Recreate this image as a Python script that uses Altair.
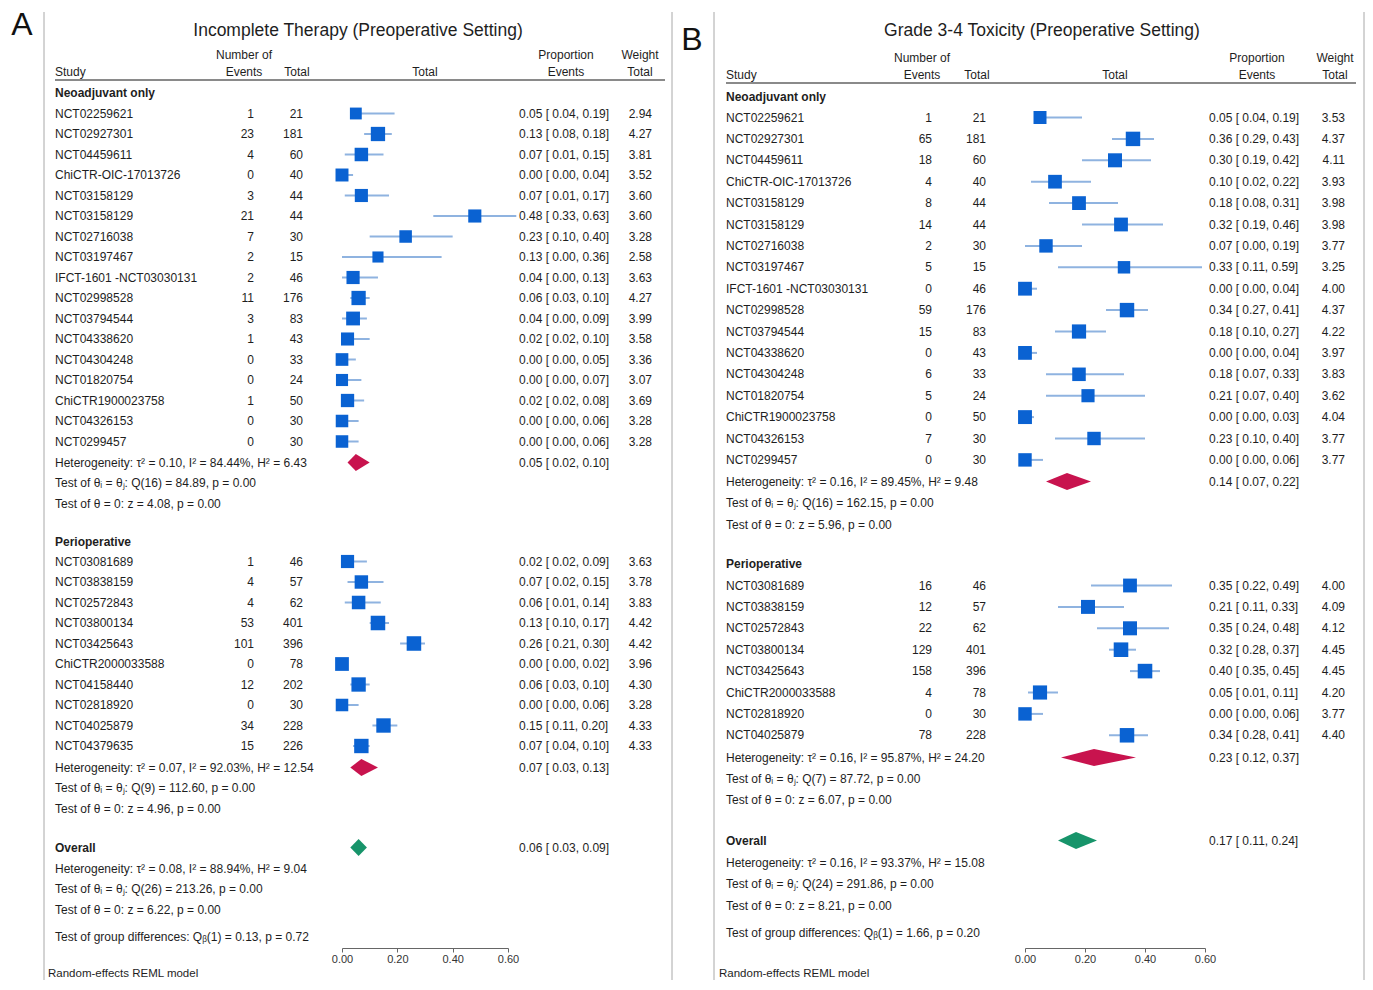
import altair as alt
import pandas as pd

FONT = "Liberation Sans"
TXT = "#1e1e1e"
BLUE = "#0a62d2"
CI = "#8fb3e0"
RED = "#c8134e"
GREEN = "#17946a"
GRAY = "#a8a8a8"

# ---------------- Panel A data: Incomplete therapy ----------------
a_neo_study = ["NCT02259621", "NCT02927301", "NCT04459611", "ChiCTR-OIC-17013726", "NCT03158129",
               "NCT03158129", "NCT02716038", "NCT03197467", "IFCT-1601 -NCT03030131", "NCT02998528",
               "NCT03794544", "NCT04338620", "NCT04304248", "NCT01820754", "ChiCTR1900023758",
               "NCT04326153", "NCT0299457"]
a_neo_events = [1, 23, 4, 0, 3, 21, 7, 2, 2, 11, 3, 1, 0, 0, 1, 0, 0]
a_neo_total = [21, 181, 60, 40, 44, 44, 30, 15, 46, 176, 83, 43, 33, 24, 50, 30, 30]
a_neo_es = [0.05, 0.13, 0.07, 0.00, 0.07, 0.48, 0.23, 0.13, 0.04, 0.06, 0.04, 0.02, 0.00, 0.00, 0.02, 0.00, 0.00]
a_neo_lo = [0.04, 0.08, 0.01, 0.00, 0.01, 0.33, 0.10, 0.00, 0.00, 0.03, 0.00, 0.02, 0.00, 0.00, 0.02, 0.00, 0.00]
a_neo_hi = [0.19, 0.18, 0.15, 0.04, 0.17, 0.63, 0.40, 0.36, 0.13, 0.10, 0.09, 0.10, 0.05, 0.07, 0.08, 0.06, 0.06]
a_neo_w = [2.94, 4.27, 3.81, 3.52, 3.60, 3.60, 3.28, 2.58, 3.63, 4.27, 3.99, 3.58, 3.36, 3.07, 3.69, 3.28, 3.28]

a_per_study = ["NCT03081689", "NCT03838159", "NCT02572843", "NCT03800134", "NCT03425643",
               "ChiCTR2000033588", "NCT04158440", "NCT02818920", "NCT04025879", "NCT04379635"]
a_per_events = [1, 4, 4, 53, 101, 0, 12, 0, 34, 15]
a_per_total = [46, 57, 62, 401, 396, 78, 202, 30, 228, 226]
a_per_es = [0.02, 0.07, 0.06, 0.13, 0.26, 0.00, 0.06, 0.00, 0.15, 0.07]
a_per_lo = [0.02, 0.02, 0.01, 0.10, 0.21, 0.00, 0.03, 0.00, 0.11, 0.04]
a_per_hi = [0.09, 0.15, 0.14, 0.17, 0.30, 0.02, 0.10, 0.06, 0.20, 0.10]
a_per_w = [3.63, 3.78, 3.83, 4.42, 4.42, 3.96, 4.30, 3.28, 4.33, 4.33]

a_summary = {"neo": (0.05, 0.02, 0.10), "per": (0.07, 0.03, 0.13), "all": (0.06, 0.03, 0.09)}
a_neo_stats = ["Heterogeneity: τ² = 0.10, I² = 84.44%, H² = 6.43",
               "Test of θᵢ = θⱼ: Q(16) = 84.89, p = 0.00",
               "Test of θ = 0: z = 4.08, p = 0.00"]
a_per_stats = ["Heterogeneity: τ² = 0.07, I² = 92.03%, H² = 12.54",
               "Test of θᵢ = θⱼ: Q(9) = 112.60, p = 0.00",
               "Test of θ = 0: z = 4.96, p = 0.00"]
a_all_stats = ["Heterogeneity: τ² = 0.08, I² = 88.94%, H² = 9.04",
               "Test of θᵢ = θⱼ: Q(26) = 213.26, p = 0.00",
               "Test of θ = 0: z = 6.22, p = 0.00"]
a_group = "Test of group differences: Qᵦ(1) = 0.13, p = 0.72"

# ---------------- Panel B data: Grade 3-4 toxicity ----------------
b_neo_study = list(a_neo_study)
b_neo_events = [1, 65, 18, 4, 8, 14, 2, 5, 0, 59, 15, 0, 6, 5, 0, 7, 0]
b_neo_total = [21, 181, 60, 40, 44, 44, 30, 15, 46, 176, 83, 43, 33, 24, 50, 30, 30]
b_neo_es = [0.05, 0.36, 0.30, 0.10, 0.18, 0.32, 0.07, 0.33, 0.00, 0.34, 0.18, 0.00, 0.18, 0.21, 0.00, 0.23, 0.00]
b_neo_lo = [0.04, 0.29, 0.19, 0.02, 0.08, 0.19, 0.00, 0.11, 0.00, 0.27, 0.10, 0.00, 0.07, 0.07, 0.00, 0.10, 0.00]
b_neo_hi = [0.19, 0.43, 0.42, 0.22, 0.31, 0.46, 0.19, 0.59, 0.04, 0.41, 0.27, 0.04, 0.33, 0.40, 0.03, 0.40, 0.06]
b_neo_w = [3.53, 4.37, 4.11, 3.93, 3.98, 3.98, 3.77, 3.25, 4.00, 4.37, 4.22, 3.97, 3.83, 3.62, 4.04, 3.77, 3.77]

b_per_study = ["NCT03081689", "NCT03838159", "NCT02572843", "NCT03800134", "NCT03425643",
               "ChiCTR2000033588", "NCT02818920", "NCT04025879"]
b_per_events = [16, 12, 22, 129, 158, 4, 0, 78]
b_per_total = [46, 57, 62, 401, 396, 78, 30, 228]
b_per_es = [0.35, 0.21, 0.35, 0.32, 0.40, 0.05, 0.00, 0.34]
b_per_lo = [0.22, 0.11, 0.24, 0.28, 0.35, 0.01, 0.00, 0.28]
b_per_hi = [0.49, 0.33, 0.48, 0.37, 0.45, 0.11, 0.06, 0.41]
b_per_w = [4.00, 4.09, 4.12, 4.45, 4.45, 4.20, 3.77, 4.40]

b_summary = {"neo": (0.14, 0.07, 0.22), "per": (0.23, 0.12, 0.37), "all": (0.17, 0.11, 0.24)}
b_neo_stats = ["Heterogeneity: τ² = 0.16, I² = 89.45%, H² = 9.48",
               "Test of θᵢ = θⱼ: Q(16) = 162.15, p = 0.00",
               "Test of θ = 0: z = 5.96, p = 0.00"]
b_per_stats = ["Heterogeneity: τ² = 0.16, I² = 95.87%, H² = 24.20",
               "Test of θᵢ = θⱼ: Q(7) = 87.72, p = 0.00",
               "Test of θ = 0: z = 6.07, p = 0.00"]
b_all_stats = ["Heterogeneity: τ² = 0.16, I² = 93.37%, H² = 15.08",
               "Test of θᵢ = θⱼ: Q(24) = 291.86, p = 0.00",
               "Test of θ = 0: z = 8.21, p = 0.00"]
b_group = "Test of group differences: Qᵦ(1) = 1.66, p = 0.20"

H = 940  # plot height (pixels); axis sits at bottom


def fmt_ci(e, l, h):
    return f"{e:.2f} [ {l:.2f}, {h:.2f}]"


def panel(d, L):
    ysc = alt.Scale(domain=[0, H], reverse=True, nice=False, zero=False)
    xsc = alt.Scale(domain=[0, 0.6], range=L["frange"], nice=False, zero=False)
    xax = alt.Axis(values=[0, 0.2, 0.4, 0.6], format=".2f", title=None, grid=False,
                   labelFont=FONT, labelFontSize=11, labelColor="#333", domainColor="#666",
                   tickColor="#666", tickSize=4, labelPadding=1, labelFlush=False)

    def Y(f):
        return alt.Y(f, scale=ysc, axis=None)

    def X(f):
        return alt.X(f, scale=xsc, axis=xax)

    step = L["step"]
    rows = []
    for key, start in (("neo", L["neo_start"]), ("per", L["per_start"])):
        for i in range(len(d[key + "_study"])):
            e, lo, hi = d[key + "_es"][i], d[key + "_lo"][i], d[key + "_hi"][i]
            rows.append(dict(study=d[key + "_study"][i], events=str(d[key + "_events"][i]),
                             total=str(d[key + "_total"][i]), es=e, lo=lo, hi=hi,
                             w=d[key + "_w"][i], wt=f"{d[key + '_w'][i]:.2f}",
                             ci=fmt_ci(e, lo, hi), y=start + step * i))
    st = pd.DataFrame(rows)

    # summary diamonds
    hh = 8.5
    drows, srows = [], []
    for key, yc, kind in (("neo", L["neo_stats"][0], "sub"), ("per", L["per_stats"][0], "sub"),
                          ("all", L["ov"], "overall")):
        e, lo, hi = d["summary"][key]
        drows += [dict(id=key, kind=kind, x=lo, y1=yc, y2=yc),
                  dict(id=key, kind=kind, x=e, y1=yc - hh, y2=yc + hh),
                  dict(id=key, kind=kind, x=hi, y1=yc, y2=yc)]
        srows.append(dict(t=fmt_ci(e, lo, hi), y=yc))
    dia = pd.DataFrame(drows)
    summ = pd.DataFrame(srows)

    stat_rows = []
    for key, ys in (("neo", L["neo_stats"]), ("per", L["per_stats"]), ("all", L["ov_stats"])):
        for t, yy in zip(d[key + "_statlines"], ys):
            stat_rows.append(dict(t=t, y=yy))
    stat_rows.append(dict(t=d["group"], y=L["grp"]))
    stats = pd.DataFrame(stat_rows)

    heads = pd.DataFrame([dict(t="Neoadjuvant only", y=L["neo_hdr"]),
                          dict(t="Perioperative", y=L["per_hdr"]),
                          dict(t="Overall", y=L["ov"])])

    one = pd.DataFrame({"a": [0]})

    def txt(s, x, y, size=12, align="center", weight="normal", color=TXT):
        return alt.Chart(pd.DataFrame({"t": [s]})).mark_text(
            align=align, baseline="middle", font=FONT, fontSize=size, fontWeight=weight, color=color
        ).encode(x=alt.value(x), y=alt.value(y), text="t:N")

    def rule(x1, x2, y1, y2, color=GRAY, w=1.0):
        return alt.Chart(one).mark_rule(color=color, strokeWidth=w).encode(
            x=alt.value(x1), x2=alt.value(x2), y=alt.value(y1), y2=alt.value(y2))

    def col(field, x, align, weight="normal", data=None):
        return alt.Chart(st if data is None else data).mark_text(
            align=align, baseline="middle", font=FONT, fontSize=12, fontWeight=weight, color=TXT
        ).encode(x=alt.value(x), y=Y("y:Q"), text=f"{field}:N")

    hy1, hy2 = L["hdr_y"]
    layers = [
        rule(L["border"][0], L["border"][0], 4, 972),
        rule(L["border"][1], L["border"][1], 4, 972),
        rule(L["uline"][0], L["uline"][1], L["uline"][2], L["uline"][2], color="#8a8a8a", w=2),
        txt(L["letter"], L["letter_xy"][0], L["letter_xy"][1], size=32, color="#111"),
        txt(d["title"], L["title_x"], 23, size=17.5),
        txt("Study", L["study_x"], hy2, align="left"),
        txt("Number of", L["ev_h"], hy1),
        txt("Events", L["ev_h"], hy2),
        txt("Total", L["tot_h"], hy2),
        txt("Total", L["forest_h"], hy2),
        txt("Proportion", L["es_h"], hy1),
        txt("Events", L["es_h"], hy2),
        txt("Weight", L["w_h"], hy1),
        txt("Total", L["w_h"], hy2),
        txt("Random-effects REML model", L["rand_x"], 966, size=11.5, align="left"),
        alt.Chart(st).mark_rule(color=CI, strokeWidth=2).encode(x=X("lo:Q"), x2="hi:Q", y=Y("y:Q")),
        alt.Chart(st).mark_square(color=BLUE, opacity=1, filled=True).encode(
            x=X("es:Q"), y=Y("y:Q"),
            size=alt.Size("w:Q", scale=alt.Scale(domain=[0, 4.5], range=[0, 215]), legend=None)),
        alt.Chart(dia).mark_area(orient="vertical", opacity=1).encode(
            x=X("x:Q"), y=Y("y1:Q"), y2="y2:Q", detail="id:N",
            color=alt.Color("kind:N", scale=alt.Scale(domain=["sub", "overall"], range=[RED, GREEN]),
                            legend=None)),
        col("study", L["study_x"], "left"),
        col("events", L["ev_r"], "right"),
        col("total", L["tot_r"], "right"),
        col("ci", L["es_x"], "left"),
        col("wt", L["w_r"], "right"),
        col("t", L["es_x"], "left", data=summ),
        col("t", L["study_x"], "left", data=stats),
        col("t", L["study_x"], "left", weight="bold", data=heads),
    ]
    return alt.layer(*layers).properties(width=L["W"], height=H)


dA = dict(neo_study=a_neo_study, neo_events=a_neo_events, neo_total=a_neo_total, neo_es=a_neo_es,
          neo_lo=a_neo_lo, neo_hi=a_neo_hi, neo_w=a_neo_w,
          per_study=a_per_study, per_events=a_per_events, per_total=a_per_total, per_es=a_per_es,
          per_lo=a_per_lo, per_hi=a_per_hi, per_w=a_per_w,
          summary=a_summary, neo_statlines=a_neo_stats, per_statlines=a_per_stats,
          all_statlines=a_all_stats, group=a_group,
          title="Incomplete Therapy (Preoperative Setting)")
dB = dict(neo_study=b_neo_study, neo_events=b_neo_events, neo_total=b_neo_total, neo_es=b_neo_es,
          neo_lo=b_neo_lo, neo_hi=b_neo_hi, neo_w=b_neo_w,
          per_study=b_per_study, per_events=b_per_events, per_total=b_per_total, per_es=b_per_es,
          per_lo=b_per_lo, per_hi=b_per_hi, per_w=b_per_w,
          summary=b_summary, neo_statlines=b_neo_stats, per_statlines=b_per_stats,
          all_statlines=b_all_stats, group=b_group,
          title="Grade 3-4 Toxicity (Preoperative Setting)")

LA = dict(W=672, frange=[334, 500], title_x=350, letter="A", letter_xy=(14, 17),
          border=(36, 664), study_x=47, ev_h=236, ev_r=246, tot_h=289, tot_r=295, forest_h=417,
          es_x=511, es_h=558, w_r=644, w_h=632, uline=(47, 657, 72), hdr_y=(47, 64),
          neo_hdr=85, neo_start=105.5, step=20.5, neo_stats=[454.5, 475, 495.5],
          per_hdr=533.5, per_start=553.5, per_stats=[759.5, 779.5, 800.5], ov=839.5,
          ov_stats=[860.5, 880.5, 901.5], grp=928.5, rand_x=40)
LB = dict(W=685, frange=[345, 525], title_x=362, letter="B", letter_xy=(12, 32),
          border=(34, 684), study_x=46, ev_h=242, ev_r=252, tot_h=297, tot_r=306, forest_h=435,
          es_x=529, es_h=577, w_r=665, w_h=655, uline=(46, 676, 75), hdr_y=(50, 67),
          neo_hdr=89, neo_start=109.5, step=21.4, neo_stats=[473.5, 494.5, 516.5],
          per_hdr=555.5, per_start=577.5, per_stats=[749.5, 770.5, 791.5], ov=832.5,
          ov_stats=[854.5, 875.5, 897.5], grp=924.5, rand_x=39)

chart = alt.hconcat(panel(dA, LA), panel(dB, LB), spacing=0, padding=0).configure_view(strokeWidth=0)

chart.save("out.html", embed_options={"renderer": "svg", "actions": False})
